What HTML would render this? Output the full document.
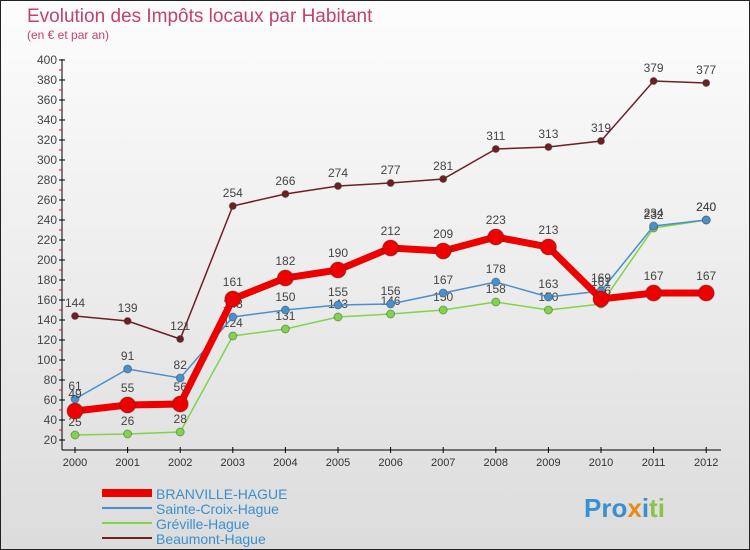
<!DOCTYPE html>
<html><head><meta charset="utf-8"><style>
body{margin:0;}
#wrap{position:relative;width:748px;height:548px;border:1px solid #222;background:linear-gradient(#fdfdfd,#dcdcdc);font-family:"Liberation Sans",sans-serif;overflow:hidden}
</style></head><body>
<div id="wrap">
<svg id="c" width="748" height="548" xmlns="http://www.w3.org/2000/svg">
<text x="26" y="21" font-size="19" fill="#c2426a">Evolution des Impôts locaux par Habitant</text>
<text x="26" y="38" font-size="12" fill="#c2426a">(en € et par an)</text>
<g id="axes"></g><g id="series"></g>
<g id="legend"></g>
<text x="583" y="516" font-size="26" font-weight="bold" fill="#3a8fd0">Pro<tspan fill="#e88a1a">x</tspan><tspan fill="#3a8fd0">i</tspan><tspan fill="#8bc34a">ti</tspan></text>
</svg></div>
<script>
const years=[2000,2001,2002,2003,2004,2005,2006,2007,2008,2009,2010,2011,2012];
const branville=[49,55,56,161,182,190,212,209,223,213,161,167,167];
const sainteCroix=[61,91,82,143,150,155,156,167,178,163,169,234,240];
const greville=[25,26,28,124,131,143,146,150,158,150,156,232,240];
const beaumont=[144,139,121,254,266,274,277,281,311,313,319,379,377];
const yTicks=[20,40,60,80,100,120,140,160,180,200,220,240,260,280,300,320,340,360,380,400];
const NS="http://www.w3.org/2000/svg";
const X=i=>74+i*52.6, Y=v=>439-(v-20);
function mk(t,a,p){const e=document.createElementNS(NS,t);for(const k in a)e.setAttribute(k,a[k]);p.appendChild(e);return e;}
const ax=document.getElementById('axes');
const yl=mk('line',{x1:61,y1:58,x2:61,y2:449,stroke:'#000'},ax);


const xl=mk('line',{x1:61,y1:449,x2:720,y2:449,stroke:'#000'},ax);


yTicks.forEach((v,k)=>{
 mk('line',{x1:58,x2:64,y1:Y(v),y2:Y(v),stroke:'#000'},ax);
 if(k<yTicks.length-1) mk('line',{x1:58,x2:61,y1:Y(v+10),y2:Y(v+10),stroke:'#e00'},ax);
 const t=mk('text',{x:56,y:Y(v)+4,'font-size':12,'text-anchor':'end',fill:'#444'},ax);t.textContent=v;
 
 
});
years.forEach((y,i)=>{
 mk('line',{x1:X(i),x2:X(i),y1:446,y2:452,stroke:'#000'},ax);
 const t=mk('text',{x:X(i),y:465,'font-size':11,'text-anchor':'middle',fill:'#333'},ax);t.textContent=y;
 
 
});
const series=[
 {n:'Beaumont-Hague',d:beaumont,c:'#6e1f24',w:1.5,r:3.5},
 {n:'Gréville-Hague',d:greville,c:'#7fd44a',w:1.5,r:4},
 {n:'Sainte-Croix-Hague',d:sainteCroix,c:'#4a90cc',w:1.5,r:4},
 {n:'BRANVILLE-HAGUE',d:branville,c:'#ee0000',w:7,r:8}];
const sg=document.getElementById('series');
series.forEach(s=>{
 const g=mk('g',{},sg);
 
 
 mk('polyline',{points:s.d.map((v,i)=>X(i)+','+Y(v)).join(' '),fill:'none',stroke:s.c,'stroke-width':s.w},g);
 s.d.forEach((v,i)=>{
  const p=mk('circle',{cx:X(i),cy:Y(v),r:s.r,fill:s.c,stroke:'#333','stroke-opacity':0.4},g);
  
  
  const t=mk('text',{x:X(i),y:Y(v)-9-(s.r>5?4:0),'font-size':12,'text-anchor':'middle',fill:'#444'},g);t.textContent=v;
  
  
 });
});
const lg=document.getElementById('legend');
[series[3],series[2],series[1],series[0]].forEach((s,i)=>{
 const y=492+i*15;
 mk('line',{x1:101,x2:151,y1:y,y2:y,stroke:s.c,'stroke-width':s.w>3?8:2},lg);
 const t=mk('text',{x:155,y:y+6,'font-size':14,fill:'#3a8fd0'},lg);t.textContent=s.n;
 
 
});
</script></body></html>
